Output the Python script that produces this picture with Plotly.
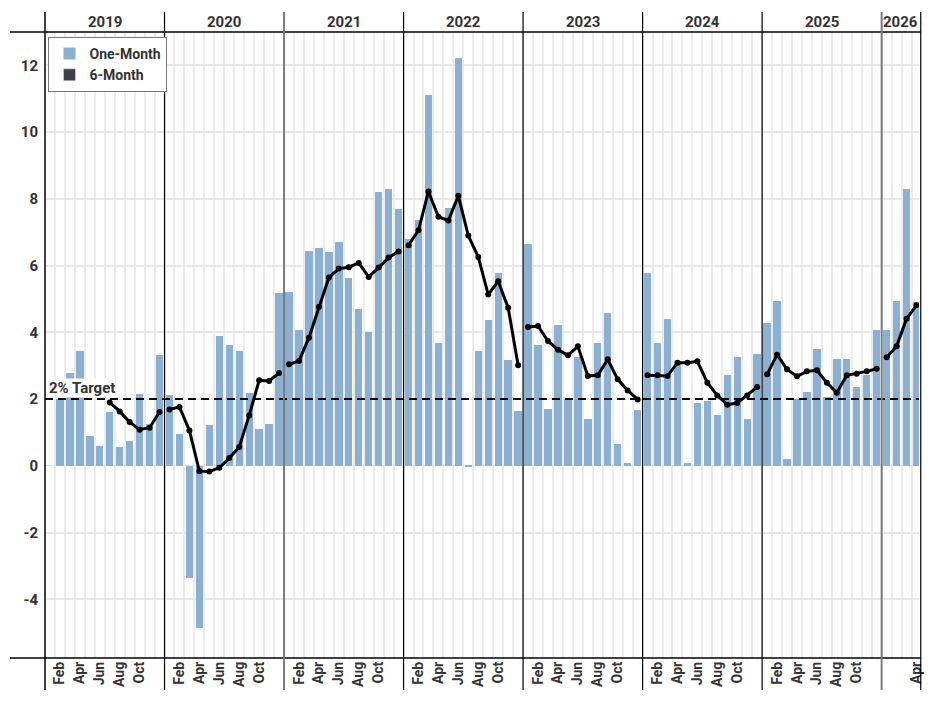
import plotly.graph_objects as go

# ---------------- data ----------------
start_year = 2019
start_month = 2  # first observation: Feb 2019
years = [2019, 2020, 2021, 2022, 2023, 2024, 2025, 2026]

one_month = [
    # 2019 Feb-Dec
    2.00, 2.77, 3.43, 0.90, 0.59, 1.61, 0.56, 0.73, 2.15, 1.25, 3.31,
    # 2020
    2.13, 0.96, -3.36, -4.86, 1.21, 3.88, 3.63, 3.43, 2.17, 1.10, 1.24, 5.17,
    # 2021
    5.22, 4.07, 6.45, 6.54, 6.40, 6.71, 5.64, 4.71, 4.01, 8.22, 8.29, 7.69,
    # 2022
    6.79, 7.36, 11.10, 3.68, 7.73, 12.22, -0.05, 3.43, 4.36, 5.79, 3.18, 1.65,
    # 2023
    6.66, 3.62, 1.71, 4.23, 2.01, 3.26, 1.41, 3.68, 4.58, 0.64, 0.09, 1.68,
    # 2024
    5.79, 3.68, 4.41, 3.05, 0.08, 1.89, 1.93, 1.51, 2.73, 3.26, 1.41, 3.36,
    # 2025
    4.29, 4.94, 0.19, 2.01, 2.22, 3.51, 2.06, 3.20, 3.20, 2.36, 2.71, 4.07,
    # 2026 Jan-Apr
    4.07, 4.94, 8.29, 4.91,
]

six_month = [
    # 2019 Feb-Dec
    None, None, None, None, None, 1.90, 1.63, 1.31, 1.08, 1.14, 1.61,
    # 2020
    1.69, 1.76, 1.06, -0.16, -0.17, -0.06, 0.23, 0.56, 1.51, 2.56, 2.54, 2.78,
    # 2021
    3.04, 3.14, 3.84, 4.76, 5.64, 5.91, 5.95, 6.08, 5.66, 5.94, 6.24, 6.42,
    # 2022
    6.61, 7.06, 8.22, 7.46, 7.35, 8.09, 6.90, 6.26, 5.13, 5.53, 4.74, 3.01,
    # 2023
    4.16, 4.19, 3.74, 3.48, 3.31, 3.58, 2.69, 2.71, 3.19, 2.59, 2.26, 1.99,
    # 2024
    2.71, 2.71, 2.69, 3.09, 3.09, 3.13, 2.49, 2.11, 1.83, 1.88, 2.11, 2.36,
    # 2025
    2.74, 3.33, 2.89, 2.68, 2.83, 2.86, 2.49, 2.19, 2.71, 2.76, 2.83, 2.91,
    # 2026 Jan-Apr
    3.25, 3.58, 4.41, 4.81,
]

target = 2.0
y_tick_vals = [-4, -2, 0, 2, 4, 6, 8, 10, 12]
y_tick_text = ["-4", "-2", "0", "2", "4", "6", "8", "10", "12"]
month_labels = {2: "Feb", 4: "Apr", 6: "Jun", 8: "Aug", 10: "Oct"}

# ---------------- derived positions ----------------
# x = months since Jan 2019
x_idx = [(start_month - 1) + i for i in range(len(one_month))]

# six-month line broken at each calendar year
lx, ly = [], []
prev_year = None
for xi, v in zip(x_idx, six_month):
    yr = start_year + xi // 12
    if prev_year is not None and yr != prev_year:
        lx.append(None)
        ly.append(None)
    lx.append(xi)
    ly.append(v)
    prev_year = yr

last_x = x_idx[-1]
tickvals, ticktext = [], []
for yr in years:
    for m, lab in month_labels.items():
        xi = (yr - start_year) * 12 + (m - 1)
        if xi <= last_x:
            if yr == years[-1] and m == 2:
                continue
            tickvals.append(xi)
            ticktext.append(lab)

BAR_COLOR = "#8cb0d1"
TXT = "#333333"
FONT = "Roboto"

fig = go.Figure()
fig.add_trace(go.Bar(
    x=x_idx, y=one_month, name="<b>One-Month</b>",
    marker=dict(color=BAR_COLOR, line=dict(width=0)),
    width=0.74,
))
fig.add_trace(go.Scatter(
    x=lx, y=ly, name="6-Month", mode="lines+markers",
    line=dict(color="#000000", width=3),
    marker=dict(color="#000000", size=6),
    showlegend=False, connectgaps=False,
))
# legend entry for the 6-month series (square swatch)
fig.add_trace(go.Bar(
    x=[None], y=[None], name="<b>6-Month</b>",
    marker=dict(color="#3b404b"),
))

x_lo, x_hi = -0.5, last_x + 0.25
shapes = []
# target line
shapes.append(dict(type="line", xref="paper", yref="y", x0=0, x1=1, y0=target, y1=target,
                   line=dict(color="#000000", width=2, dash="8px,5px"), layer="above"))
# header bottom border and bottom axis line
shapes.append(dict(type="line", xref="paper", yref="paper", x0=-0.04, x1=1.002, y0=1, y1=1,
                   line=dict(color="#000000", width=1.5), layer="above"))
shapes.append(dict(type="line", xref="paper", yref="paper", x0=-0.04, x1=1.002, y0=0, y1=0,
                   line=dict(color="#000000", width=1.5), layer="above"))
# year separators
for k, yr in enumerate(years):
    xb = (yr - start_year) * 12 - 0.5
    px = (xb - x_lo) / (x_hi - x_lo)
    if yr in (2021, 2026):
        col, w = "#7a7a7a", 2
    else:
        col, w = "#000000", 1.2
    if k == 0:
        col, w = "#000000", 1.5
    shapes.append(dict(type="line", xref="paper", yref="paper", x0=px, x1=px, y0=-0.051, y1=1.032,
                       line=dict(color=col, width=w), layer="above"))
# right border
shapes.append(dict(type="line", xref="paper", yref="paper", x0=1.002, x1=1.002, y0=-0.051, y1=1.032,
                   line=dict(color="#000000", width=1.2), layer="above"))

annotations = []
for yr in years:
    a = (yr - start_year) * 12 - 0.5
    b = min(a + 12, x_hi)
    annotations.append(dict(x=(a + b) / 2, y=1.016, xref="x", yref="paper",
                            text=f"<b>{yr}</b>", showarrow=False,
                            font=dict(family=FONT, size=15, color=TXT),
                            xanchor="center", yanchor="middle"))
annotations.append(dict(x=0.003, y=target, xref="paper", yref="y", text="<b>2% Target</b>",
                        showarrow=False, xanchor="left", yanchor="middle", yshift=11,
                        bgcolor="#ffffff", borderpad=0,
                        font=dict(family=FONT, size=15, color=TXT)))

fig.update_layout(
    width=936, height=704,
    margin=dict(l=45, r=14, t=32, b=46),
    paper_bgcolor="#ffffff", plot_bgcolor="#ffffff",
    bargap=0, barmode="overlay",
    font=dict(family=FONT, color=TXT),
    shapes=shapes, annotations=annotations,
    legend=dict(x=0.004, y=0.992, xanchor="left", yanchor="top",
                bgcolor="#ffffff", bordercolor="#777777", borderwidth=1,
                font=dict(family=FONT, size=14, color=TXT),
                itemwidth=30, tracegroupgap=0),
    showlegend=True,
)
fig.update_xaxes(
    range=[x_lo, x_hi], tickmode="array", tickvals=tickvals,
    ticktext=[f"<b>{t}</b>" for t in ticktext], tickangle=-90,
    tickfont=dict(family=FONT, size=14, color=TXT),
    showgrid=False, zeroline=False, showline=False, ticks="",
    minor=dict(showgrid=True, tick0=-0.5, dtick=1, gridcolor="#ebebeb", gridwidth=1.5),
)
fig.update_yaxes(
    range=[-5.76, 13.0], tickmode="array", tickvals=y_tick_vals,
    ticktext=[f"<b>{t}</b>" for t in y_tick_text],
    tickfont=dict(family=FONT, size=15, color=TXT),
    showgrid=True, gridcolor="#e8e8e8", gridwidth=1.5,
    zeroline=True, zerolinecolor="#dddddd", zerolinewidth=1,
    showline=False, ticks="", ticklabelstandoff=6,
)

fig.write_html("out.html")
